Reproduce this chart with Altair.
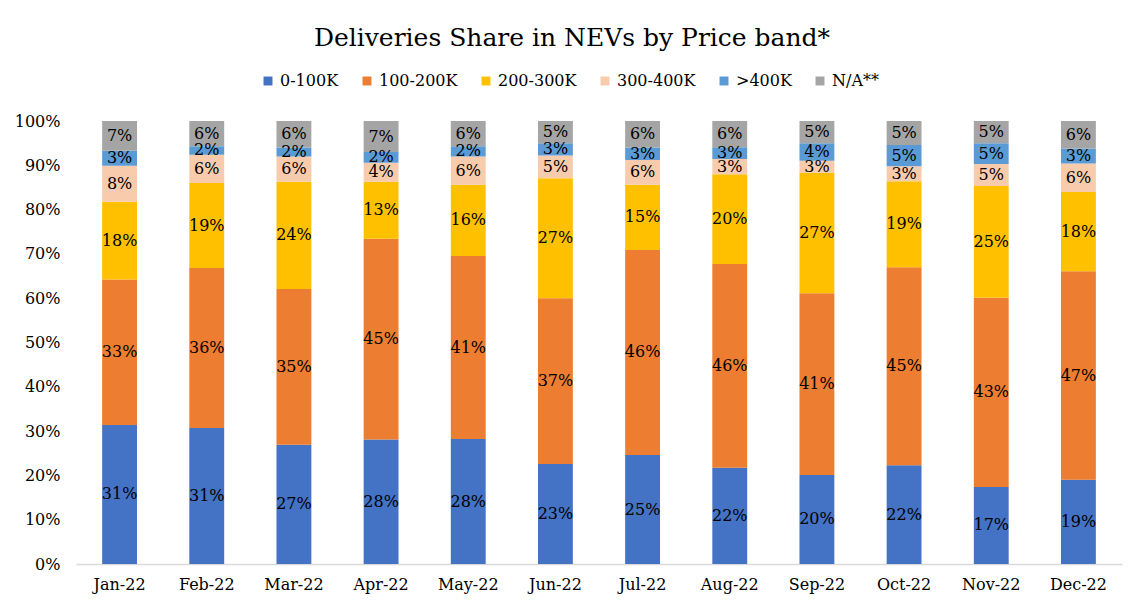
import altair as alt
import pandas as pd

months = ["Jan-22", "Feb-22", "Mar-22", "Apr-22", "May-22", "Jun-22",
          "Jul-22", "Aug-22", "Sep-22", "Oct-22", "Nov-22", "Dec-22"]
bands = ["0-100K", "100-200K", "200-300K", "300-400K", ">400K", "N/A**"]
colors = ["#4472C4", "#ED7D31", "#FFC000", "#F8CBAD", "#5B9BD5", "#A5A5A5"]

share_0_100 = [31.4, 30.7, 26.9, 28.1, 28.2, 22.6, 24.6, 21.7, 20.1, 22.3, 17.4, 19.0]
share_100_200 = [32.8, 36.1, 35.2, 45.3, 41.3, 37.4, 46.3, 46.0, 41.0, 44.7, 42.7, 47.1]
share_200_300 = [17.6, 19.2, 24.2, 12.9, 16.1, 27.1, 14.7, 20.3, 27.2, 19.4, 25.2, 17.9]
share_300_400 = [8.1, 6.4, 5.7, 4.3, 6.4, 5.1, 5.6, 3.4, 2.7, 3.4, 5.0, 6.4]
share_400_plus = [3.4, 1.9, 2.0, 2.4, 2.3, 2.8, 2.8, 2.7, 4.0, 4.8, 4.7, 3.4]
share_na = [6.7, 5.7, 6.0, 7.0, 5.7, 5.0, 6.0, 5.9, 5.0, 5.4, 5.0, 6.2]

series = [share_0_100, share_100_200, share_200_300, share_300_400, share_400_plus, share_na]
rows = []
for bi, (band, vals) in enumerate(zip(bands, series)):
    for month, v in zip(months, vals):
        rows.append({"month": month, "band": band, "order": bi, "value": v / 100.0})
df = pd.DataFrame(rows)

FONT = "DejaVu Serif"

base = alt.Chart(df).transform_stack(
    stack="value", groupby=["month"], as_=["y0", "y1"],
    sort=[alt.SortField("order", order="ascending")]
).transform_calculate(mid="(datum.y0 + datum.y1) / 2")

x_enc = alt.X("month:N", sort=months, title=None,
              scale=alt.Scale(paddingInner=0.6, paddingOuter=0.3),
              axis=alt.Axis(labelAngle=0, labelFont=FONT, labelFontSize=16,
                            labelColor="#000000", domainColor="#D9D9D9",
                            domainWidth=1.5, ticks=False, labelPadding=12, grid=False))

bars = base.mark_bar().encode(
    x=x_enc,
    y=alt.Y("y0:Q", scale=alt.Scale(domain=[0, 1]), title=None,
            axis=alt.Axis(format=".0%", values=[i / 10 for i in range(11)],
                          domain=False, ticks=False, grid=False, labelFont=FONT,
                          labelFontSize=16, labelColor="#000000", labelPadding=16)),
    y2="y1:Q",
    color=alt.Color("band:N", scale=alt.Scale(domain=bands, range=colors),
                    legend=alt.Legend(title=None, orient="none", direction="horizontal",
                                      legendX=184, legendY=-48, symbolType="square",
                                      symbolSize=80, symbolStrokeWidth=0,
                                      labelFont=FONT, labelFontSize=16,
                                      labelColor="#000000", columnPadding=20,
                                      labelOffset=4)),
)

labels = base.mark_text(font=FONT, fontSize=16, color="#000000", baseline="middle").encode(
    x=alt.X("month:N", sort=months),
    y=alt.Y("mid:Q"),
    text=alt.Text("value:Q", format=".0%"),
)

chart = (bars + labels).properties(
    width=1046, height=443,
    title=alt.TitleParams("Deliveries Share in NEVs by Price band*", font=FONT,
                          fontSize=25, fontWeight="normal", color="#000000",
                          anchor="middle", offset=22, dx=-27),
    autosize=alt.AutoSizeParams(type="none"),
    padding={"left": 68, "top": 113, "right": 15, "bottom": 40},
).configure_view(stroke=None)

chart.save("out.html", embed_options={"renderer": "svg", "actions": False})
